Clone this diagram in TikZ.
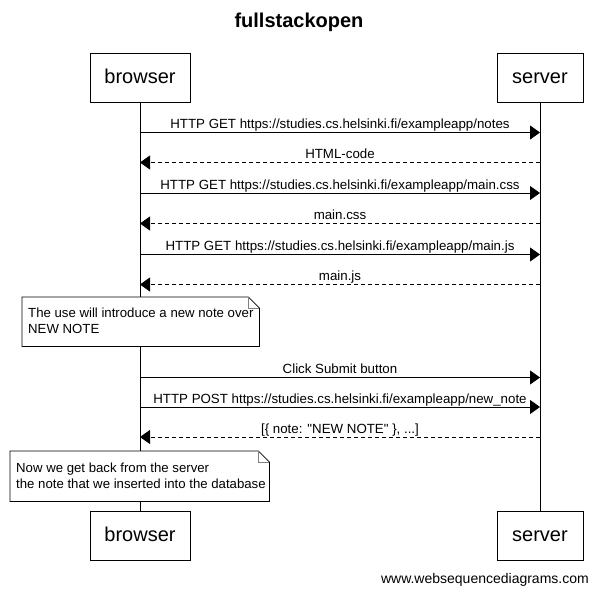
\documentclass[tikz,border=0pt]{standalone}
\usepackage{fontspec}
\setmainfont{Liberation Sans}
\usetikzlibrary{arrows.meta}
\begin{document}
\begin{tikzpicture}[x=1pt,y=-1pt,
  actor/.style={draw,line width=0.8pt,fill=white,minimum height=49pt,font=\fontsize{20}{24}\selectfont,inner sep=0pt,text height=15pt,text depth=4pt},
  life/.style={line width=0.8pt},
  msg/.style={line width=0.8pt,-{Triangle[length=10pt,width=14pt]}},
  reply/.style={msg,dash pattern=on 4pt off 3pt},
  lbl/.style={above,inner sep=1pt,text height=9.5pt,text depth=2.5pt,font=\fontsize{13.3}{15}\selectfont},
  notebox/.style={anchor=north west,fill=white,inner sep=0pt},
  notetext/.style={anchor=west,inner sep=0pt,align=left,font=\fontsize{13.2}{16}\selectfont},
  noteline/.style={line width=0.8pt}
]
\path[fill=white] (0,0) rectangle (598,597);
\useasboundingbox (0,0) rectangle (598,597);

\node[font=\bfseries\fontsize{20}{24}\selectfont] (title) at (299,22) {fullstackopen};

\node[actor,minimum width=100pt] (bt) at (140,77.5) {browser};
\node[actor,minimum width=86pt] (st) at (540,77.5) {server};
\node[actor,minimum width=100pt] (bb) at (140,535.5) {browser};
\node[actor,minimum width=86pt] (sb) at (540,535.5) {server};

\draw[life] (bt.south) -- (bb.north);
\draw[life] (st.south) -- (sb.north);

\foreach \i/\y in {1/132.5,2/162.5,3/193,4/223.5,5/254.5,6/284.5,7/377.5,8/407,9/437}{
  \coordinate (b\i) at (140,\y);
  \coordinate (s\i) at (540,\y);
}

\draw[msg] (b1) -- node[lbl]{HTTP GET https://studies.cs.helsinki.fi/exampleapp/notes} (s1);
\draw[reply] (s2) -- node[lbl]{HTML-code} (b2);
\draw[msg] (b3) -- node[lbl]{HTTP GET https://studies.cs.helsinki.fi/exampleapp/main.css} (s3);
\draw[reply] (s4) -- node[lbl]{main.css} (b4);
\draw[msg] (b5) -- node[lbl]{HTTP GET https://studies.cs.helsinki.fi/exampleapp/main.js} (s5);
\draw[reply] (s6) -- node[lbl]{main.js} (b6);
\draw[msg] (b7) -- node[lbl]{Click Submit button} (s7);
\draw[msg] (b8) -- node[lbl]{HTTP POST https://studies.cs.helsinki.fi/exampleapp/new\_note} (s8);
\draw[reply] (s9) -- node[lbl]{[\{ note: \textquotedbl NEW NOTE\textquotedbl\ \}, ...]} (b9);

% note 1
\node[notebox,minimum width=237pt,minimum height=49pt] (n1) at (22,297) {};
\draw[noteline] (n1.north west) -- ([xshift=-11pt]n1.north east) -- ([yshift=-11pt]n1.north east)
  -- (n1.south east) -- (n1.south west) -- cycle;
\draw[line width=0.6pt,gray] ([xshift=-11pt]n1.north east) -- ([xshift=-11pt,yshift=-11pt]n1.north east) -- ([yshift=-11pt]n1.north east);
\node[notetext] (n1t) at ([xshift=6pt,yshift=1pt]n1.west)
  {The use will introduce a new note over\\NEW NOTE};

% note 2
\node[notebox,minimum width=259pt,minimum height=50pt] (n2) at (10,451) {};
\draw[noteline] (n2.north west) -- ([xshift=-11pt]n2.north east) -- ([yshift=-11pt]n2.north east)
  -- (n2.south east) -- (n2.south west) -- cycle;
\draw[line width=0.6pt,gray] ([xshift=-11pt]n2.north east) -- ([xshift=-11pt,yshift=-11pt]n2.north east) -- ([yshift=-11pt]n2.north east);
\node[notetext] (n2t) at ([xshift=6pt]n2.west)
  {Now we get back from the server\\the note that we inserted into the database};

\node[anchor=east,inner sep=0pt,font=\fontsize{14}{16}\selectfont] (wm) at (589,580) {www.websequencediagrams.com};
\end{tikzpicture}
\end{document}
